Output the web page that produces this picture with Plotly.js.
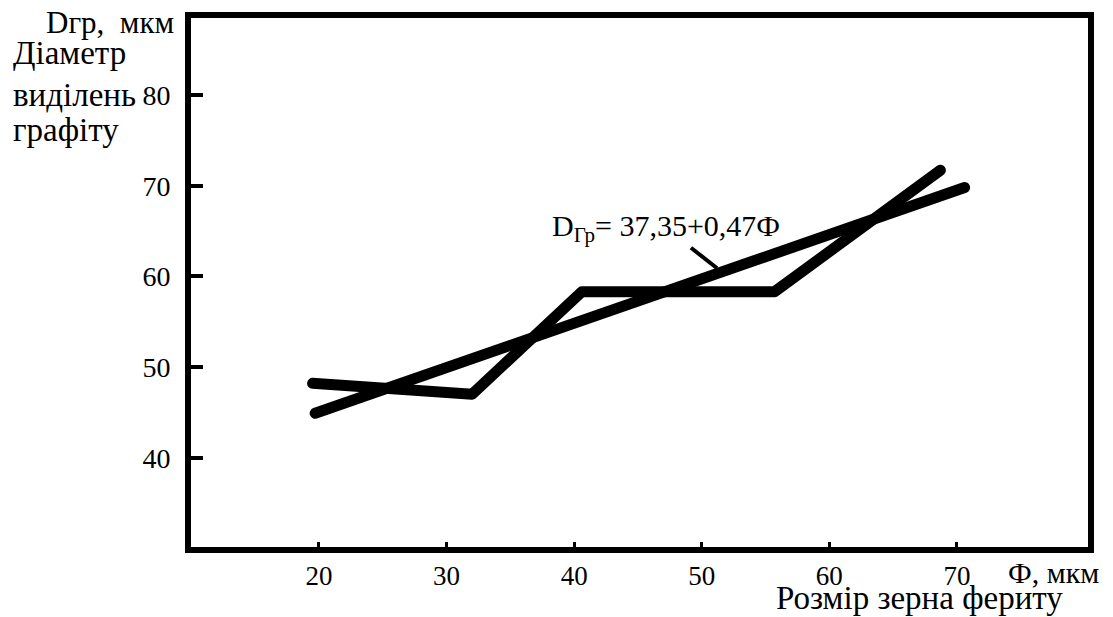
<!DOCTYPE html>
<html><head><meta charset="utf-8">
<script src="https://cdn.plot.ly/plotly-3.0.1.min.js"></script>
<style>html,body{margin:0;padding:0;background:#fff}#chart{width:1113px;height:617px}
.scatterlayer path.js-line{stroke-linecap:round;stroke-linejoin:round}</style>
</head><body><div id="chart"></div>
<script>
// Experimental broken line
const expX = [19.5, 32.0, 40.6, 55.7, 68.7];
const expY = [48.2, 47.0, 58.3, 58.3, 71.7];
// Regression line D = 37,35 + 0,47Ф (as drawn)
const regX = [19.7, 70.6];
const regY = [44.9, 69.8];
const xTicks = [20, 30, 40, 50, 60, 70];
const yTicks = [40, 50, 60, 70, 80];

const serif = '"Liberation Serif", serif';
const traces = [
  {x: expX, y: expY, mode: 'lines', line: {color: '#000', width: 11}, hoverinfo: 'none'},
  {x: regX, y: regY, mode: 'lines', line: {color: '#000', width: 11}, hoverinfo: 'none'}
];
function ann(text, x, y, xa, size, ya){
  return {text: text, xref: 'paper', yref: 'paper', x: x, y: y, xanchor: xa, yanchor: ya || 'middle',
    showarrow: false, borderpad: 0, font: {family: serif, size: size, color: '#000'}};
}
const layout = {
  width: 1113, height: 617,
  margin: {l: 191, r: 25, t: 18, b: 70, pad: 0},
  paper_bgcolor: '#fff', plot_bgcolor: '#fff',
  showlegend: false,
  font: {family: serif, color: '#000'},
  xaxis: {range: [9.97, 80.27], tickvals: xTicks, ticktext: xTicks.map(String),
    showgrid: false, zeroline: false, showline: true, linewidth: 6, linecolor: '#000', mirror: true,
    ticks: 'inside', ticklen: 5, tickwidth: 3, tickcolor: '#000', ticklabelstandoff: 0,
    tickfont: {family: serif, size: 27, color: '#000'}},
  yaxis: {range: [30.15, 88.5], tickvals: yTicks, ticktext: yTicks.map(String),
    showgrid: false, zeroline: false, showline: true, linewidth: 6, linecolor: '#000', mirror: true,
    ticks: 'inside', ticklen: 12, tickwidth: 4, tickcolor: '#000', ticklabelstandoff: 9,
    tickfont: {family: serif, size: 28, color: '#000'}},
  annotations: [
    ann('Dгр,&nbsp;&nbsp;мкм', -0.0178, 0.9924, 'right', 31),
    ann('Діаметр', -0.1996, 0.9338, 'left', 33),
    ann('виділень', -0.1996, 0.8546, 'left', 33),
    ann('графіту', -0.1996, 0.7883, 'left', 33),
    ann('Ф, мкм', 0.9097, -0.0473, 'left', 30),
    ann('Розмір зерна фериту', 0.651, -0.1323, 'left', 33, 'bottom'),
    {text: 'D<sub>Гр</sub>= 37,35+0,47Ф', xref: 'x', yref: 'y', x: 51.2, y: 60.9,
      ax: -51, ay: -40, showarrow: true, arrowhead: 0, arrowwidth: 4, arrowcolor: '#000',
      borderpad: 0, font: {family: serif, size: 30, color: '#000'}}
  ]
};
Plotly.newPlot('chart', traces, layout, {displayModeBar: false, staticPlot: true});
</script></body></html>
